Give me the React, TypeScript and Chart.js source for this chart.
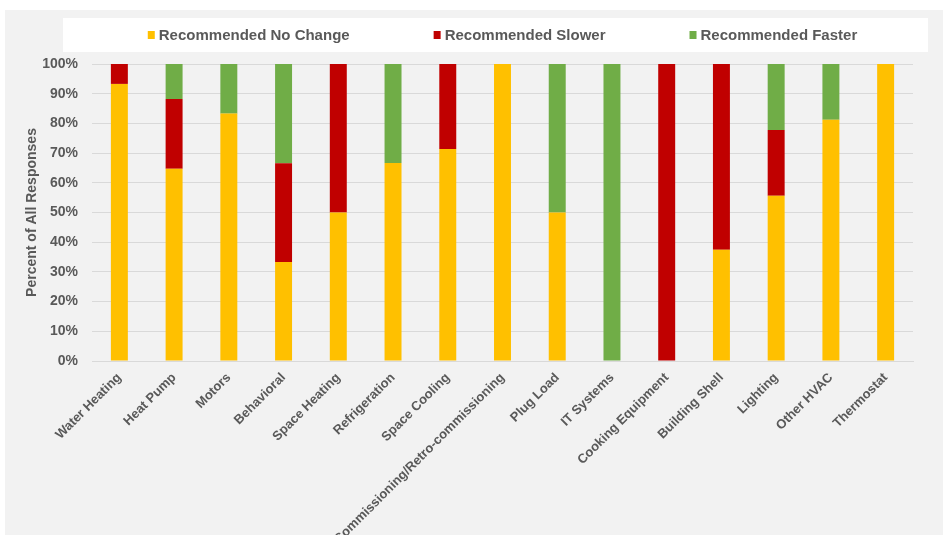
import React, { useEffect, useRef } from "react";
import { Chart, registerables } from "chart.js";

Chart.register(...registerables);

const categories = [
  "Water Heating",
  "Heat Pump",
  "Motors",
  "Behavioral",
  "Space Heating",
  "Refrigeration",
  "Space Cooling",
  "Commissioning/Retro-commissioning",
  "Plug Load",
  "IT Systems",
  "Cooking Equipment",
  "Building Shell",
  "Lighting",
  "Other HVAC",
  "Thermostat",
];

const noChange = [93.3, 64.7, 83.3, 33.3, 50, 66.7, 71.4, 100, 50, 0, 0, 37.5, 55.6, 81.2, 100];
const slower = [6.7, 23.5, 0, 33.3, 50, 0, 28.6, 0, 0, 0, 100, 62.5, 22.2, 0, 0];
const faster = [0, 11.8, 16.7, 33.4, 0, 33.3, 0, 0, 50, 100, 0, 0, 22.2, 18.8, 0];

const seriesLabels = ["Recommended No Change", "Recommended Slower", "Recommended Faster"];
const seriesColors = ["#FFC000", "#C00000", "#70AD47"];

const yTicks = [0, 10, 20, 30, 40, 50, 60, 70, 80, 90, 100];

const TEXT = "#595959";
const FONT = "'Liberation Sans', Arial, sans-serif";

const backgroundAndLegend = {
  id: "backgroundAndLegend",
  beforeDraw(chart: any) {
    const ctx = chart.ctx;
    ctx.save();
    ctx.fillStyle = "#ffffff";
    ctx.fillRect(0, 0, chart.width, chart.height);
    ctx.fillStyle = "#f2f2f2";
    ctx.fillRect(5, 10, chart.width - 5, chart.height - 10);
    ctx.fillStyle = "#ffffff";
    ctx.fillRect(63, 18, 865, 34);

    // legend
    ctx.font = `bold 15px ${FONT}`;
    ctx.textBaseline = "middle";
    ctx.textAlign = "left";
    const boxW = 7;
    const boxH = 8;
    const boxGap = 4;
    const itemGap = 84;
    const ds = chart.data.datasets;
    const widths = ds.map((d: any) => boxW + boxGap + ctx.measureText(d.label).width);
    const total = widths.reduce((a: number, b: number) => a + b, 0) + itemGap * (ds.length - 1);
    const cx = (chart.chartArea.left + chart.chartArea.right) / 2;
    let x = cx - total / 2;
    const y = 35;
    ds.forEach((d: any, i: number) => {
      ctx.fillStyle = d.backgroundColor;
      ctx.fillRect(x, y - boxH / 2, boxW, boxH);
      ctx.fillStyle = TEXT;
      ctx.fillText(d.label, x + boxW + boxGap, y + 1);
      x += widths[i] + itemGap;
    });
    ctx.restore();
  },
};

export default function App() {
  const ref = useRef<HTMLCanvasElement>(null);

  useEffect(() => {
    document.body.style.margin = "0";
    const canvas = ref.current;
    if (!canvas) return;
    const seriesData = [noChange, slower, faster];
    const chart = new Chart(canvas, {
      type: "bar",
      data: {
        labels: categories,
        datasets: seriesLabels.map((label, i) => ({
          label,
          data: seriesData[i],
          backgroundColor: seriesColors[i],
          borderWidth: 0,
          barPercentage: 0.31,
          categoryPercentage: 1,
        })),
      },
      options: {
        responsive: false,
        animation: false,
        devicePixelRatio: 1,
        layout: {
          autoPadding: false,
          padding: { left: 0, top: 64, right: 30, bottom: 0 },
        },
        plugins: {
          legend: { display: false },
          tooltip: { enabled: false },
          title: { display: false },
        },
        scales: {
          x: {
            stacked: true,
            grid: { display: false, drawTicks: false },
            border: { display: true, color: "#d9d9d9", width: 1 },
            ticks: {
              color: TEXT,
              font: { family: FONT, size: 13, weight: "bold" },
              minRotation: 45,
              maxRotation: 45,
              autoSkip: false,
              padding: 9,
            },
            afterFit(scale: any) {
              scale.height = 174;
            },
          },
          y: {
            stacked: true,
            min: 0,
            max: 100,
            afterBuildTicks(scale: any) {
              scale.ticks = yTicks.map((v) => ({ value: v }));
            },
            grid: { color: "#d9d9d9", lineWidth: 1, drawTicks: false },
            border: { display: false },
            ticks: {
              color: TEXT,
              font: { family: FONT, size: 14, weight: "bold" },
              padding: 14,
              callback: (v: any) => `${v}%`,
            },
            title: {
              display: true,
              text: "Percent of All Responses",
              color: TEXT,
              font: { family: FONT, size: 14, weight: "bold" },
              padding: { top: 24, bottom: 0 },
            },
            afterFit(scale: any) {
              scale.width = 92;
            },
          },
        },
      },
      plugins: [backgroundAndLegend],
    });
    return () => chart.destroy();
  }, []);

  return (
    <div style={{ width: 943, height: 535, position: "relative", overflow: "hidden" }}>
      <canvas ref={ref} width={943} height={535} style={{ display: "block" }} />
    </div>
  );
}
